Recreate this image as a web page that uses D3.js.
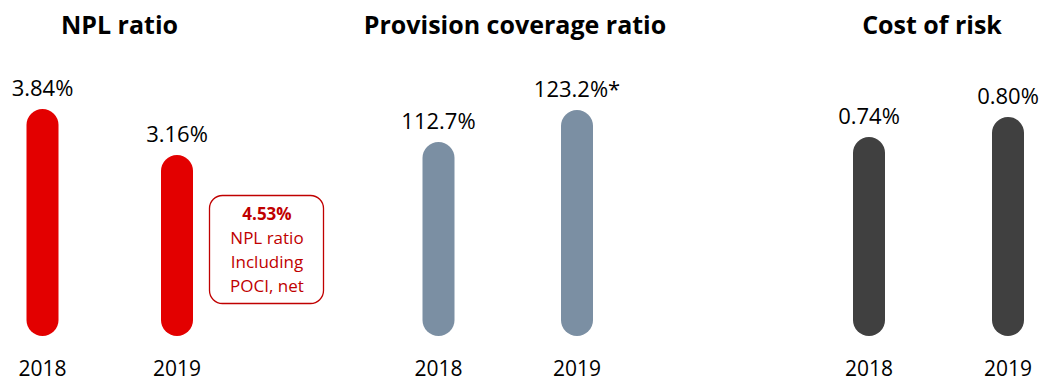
<!DOCTYPE html>
<html>
<head>
<meta charset="utf-8">
<script src="https://cdn.jsdelivr.net/npm/d3@7"></script>
<style>
	body { margin: 0; background: #fff; }
	text { font-family: "Open Sans", sans-serif; }
</style>
</head>
<body>
<script>
// data
var years = ["2018", "2019"];
var titles = ["NPL ratio", "Provision coverage ratio", "Cost of risk"];
var nplValues = [3.84, 3.16];
var coverageValues = [112.7, 123.2];
var costValues = [0.74, 0.80];
var nplLabels = ["3.84%", "3.16%"];
var coverageLabels = ["112.7%", "123.2%*"];
var costLabels = ["0.74%", "0.80%"];
var noteLines = ["4.53%", "NPL ratio", "Including", "POCI, net"];

var width = 1045;
var height = 381;
var barBottom = 336;
var barWidth = 32;

var panels = [
	{ title: titles[0], values: nplValues, labels: nplLabels, color: "#e30000",
		xRange: [42.5, 177], titleX: 119.5, domain: [0.48, 3.84], top: 109 },
	{ title: titles[1], values: coverageValues, labels: coverageLabels, color: "#7b8fa3",
		xRange: [438.5, 577], titleX: 515, domain: [49, 123.2], top: 110 },
	{ title: titles[2], values: costValues, labels: costLabels, color: "#404040",
		xRange: [869, 1008], titleX: 932, domain: [0.143, 0.80], top: 117 },
];

var svg = d3
	.select("body")
	.append("svg")
	.attr("width", width)
	.attr("height", height);

panels.forEach((p) => {
	var x = d3.scalePoint().domain(years).range(p.xRange);
	var y = d3.scaleLinear().domain(p.domain).range([barBottom, p.top]);
	var rows = years.map((yr, i) => {
		return { year: yr, value: p.values[i], label: p.labels[i] };
	});

	var g = svg.append("g");

	g.append("text")
		.attr("x", p.titleX)
		.attr("y", 34)
		.attr("text-anchor", "middle")
		.style("font-size", "25px")
		.style("font-weight", "bold")
		.style("fill", "#000")
		.text(p.title);

	g.selectAll(".bar")
		.data(rows)
		.join("rect")
		.attr("class", "bar")
		.attr("x", (d) => x(d.year) - barWidth / 2)
		.attr("y", (d) => y(d.value))
		.attr("width", barWidth)
		.attr("height", (d) => barBottom - y(d.value))
		.attr("rx", barWidth / 2)
		.style("fill", p.color);

	g.selectAll(".value")
		.data(rows)
		.join("text")
		.attr("class", "value")
		.attr("x", (d) => x(d.year))
		.attr("y", (d) => y(d.value) - 13)
		.attr("text-anchor", "middle")
		.style("font-size", "22px")
		.style("fill", "#000")
		.text((d) => d.label);

	g.selectAll(".year")
		.data(rows)
		.join("text")
		.attr("class", "year")
		.attr("x", (d) => x(d.year))
		.attr("y", 376)
		.attr("text-anchor", "middle")
		.style("font-size", "21px")
		.style("fill", "#000")
		.text((d) => d.year);
});

// NPL incl. POCI call-out box
var note = svg.append("g");
note.append("rect")
	.attr("x", 209.5)
	.attr("y", 195.5)
	.attr("width", 114)
	.attr("height", 108)
	.attr("rx", 13)
	.style("fill", "#fff")
	.style("stroke", "#c00000")
	.style("stroke-width", 1.3);

note.selectAll("text")
	.data(noteLines)
	.join("text")
	.attr("x", 267)
	.attr("y", (d, i) => 220 + i * 24)
	.attr("text-anchor", "middle")
	.style("font-size", "17px")
	.style("font-weight", (d, i) => (i === 0 ? "bold" : "normal"))
	.style("fill", "#c00000")
	.text((d) => d);
</script>
</body>
</html>
